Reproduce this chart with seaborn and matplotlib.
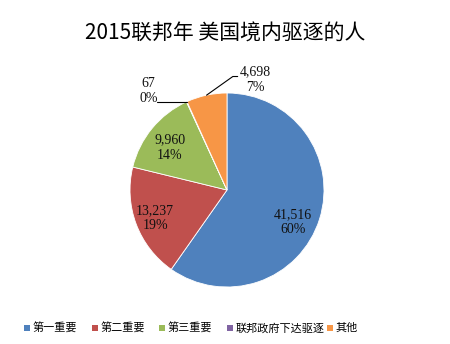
import numpy as np
import matplotlib
matplotlib.use("Agg")
import matplotlib.pyplot as plt
import seaborn as sns
from matplotlib.patches import Rectangle

sns.set_theme(style="white")
plt.rcParams['font.family'] = ['Noto Sans CJK SC', 'DejaVu Sans']

title = "2015联邦年 美国境内驱逐的人"
categories = ["第一重要", "第二重要", "第三重要", "联邦政府下达驱逐", "其他"]
values = [41516, 13237, 9960, 67, 4698]
value_labels = ["41,516", "13,237", "9,960", "67", "4,698"]
pct_labels = ["60%", "19%", "14%", "0%", "7%"]
colors = ["#4F81BD", "#C0504D", "#9BBB59", "#8064A2", "#F79646"]

W, H = 450, 344
fig = plt.figure(figsize=(W / 100, H / 100), dpi=100)
cx, cy, r = 227, 190, 97
ax = fig.add_axes([(cx - r) / W, (H - cy - r) / H, 2 * r / W, 2 * r / H])
wedges, _ = ax.pie(values, colors=colors, startangle=90, counterclock=False,
                   radius=1.0, wedgeprops=dict(edgecolor="white", linewidth=0.6))
ax.set_xlim(-1, 1)
ax.set_ylim(-1, 1)
ax.set_aspect("equal")
ax.axis("off")

serif = dict(family="Liberation Serif", fontsize=10, color="#111111",
             ha="center", va="center", linespacing=1.25)
inside_pos = {0: (0.68, -0.33), 1: (-0.74, -0.29), 2: (-0.59, 0.44)}
for i, (dx, dy) in inside_pos.items():
    ax.text(dx, dy, value_labels[i] + "\n" + pct_labels[i], **serif)

w = wedges[3]
ang = np.deg2rad((w.theta1 + w.theta2) / 2)
ex, ey = np.cos(ang), np.sin(ang)
ax.plot([ex, -0.72], [ey, ey], color="black", lw=0.8, clip_on=False)
ax.text(-0.81, 1.02, value_labels[3] + "\n" + pct_labels[3], clip_on=False, **serif)

w = wedges[4]
ang = np.deg2rad((w.theta1 + w.theta2) / 2)
ex, ey = np.cos(ang), np.sin(ang)
ax.plot([ex, 0.06, 0.11], [ey, 1.17, 1.17], color="black", lw=0.8, clip_on=False)
ax.text(0.29, 1.14, value_labels[4] + "\n" + pct_labels[4], clip_on=False, **serif)

fig.text(0.5, 1 - 34 / H, title, ha="center", va="center", fontsize=15, color="black")

# legend drawn manually to mimic spreadsheet spacing
marker_x = [24, 92, 159, 227, 327]
ly = 328
msize = 6
for mx, c, lab in zip(marker_x, colors, categories):
    fig.patches.append(Rectangle((mx / W, (H - ly - msize / 2) / H), msize / W, msize / H,
                                 transform=fig.transFigure, facecolor=c, edgecolor="none"))
    fig.text((mx + 9) / W, 1 - ly / H, lab, ha="left", va="center", fontsize=8, color="black")

fig.savefig("out.png", dpi=100, facecolor="white")
